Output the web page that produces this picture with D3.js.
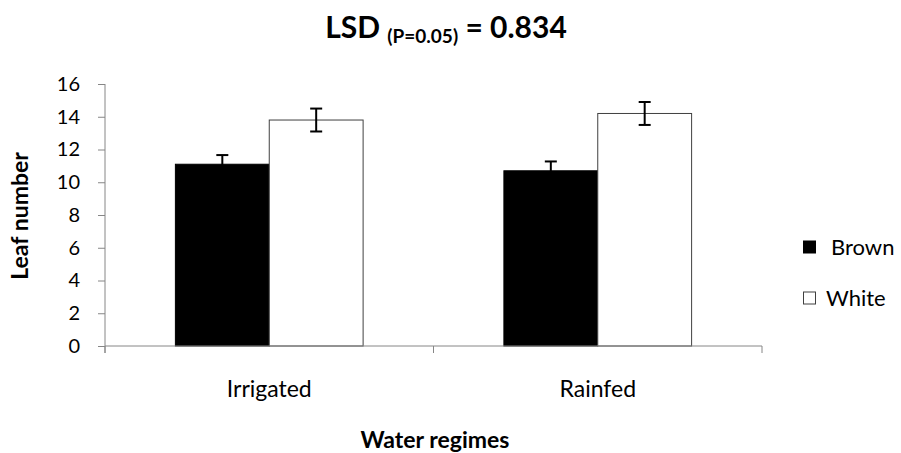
<!DOCTYPE html>
<html>
<head>
<meta charset="utf-8">
<script src="https://cdn.jsdelivr.net/npm/d3@7"></script>
<style>
  html, body { margin: 0; padding: 0; background: #fff; }
  svg { display: block; font-family: Lato, "Open Sans", sans-serif; }
</style>
</head>
<body>
<svg id="chart" width="901" height="453"></svg>
<script>
// Leaf number by water regime and seed colour
const categories = ["Irrigated", "Rainfed"];
const seriesNames = ["Brown", "White"];
const brownValues = [11.1, 10.7];
const whiteValues = [13.8, 14.2];
const brownErrors = [0.56, 0.57];
const whiteErrors = [0.7, 0.7];
const yTicks = [0, 2, 4, 6, 8, 10, 12, 14, 16];

const series = [
  { name: seriesNames[0], values: brownValues, errors: brownErrors, fill: "#000", stroke: "#000" },
  { name: seriesNames[1], values: whiteValues, errors: whiteErrors, fill: "#fff", stroke: "#404040" }
];

const svg = d3.select("#chart");
const plot = { left: 105, right: 762, top: 84, bottom: 346 };
const axisColor = "#868686";

const x0 = d3.scaleBand().domain(categories).range([plot.left, plot.right]).paddingInner(0).paddingOuter(0);
const gapWidth = 1.5; // gap between clusters, as a fraction of a bar
const barW = x0.bandwidth() / (series.length + gapWidth);
const x1 = d3.scaleBand().domain(seriesNames)
  .range([barW * gapWidth / 2, barW * gapWidth / 2 + barW * series.length]).padding(0);
const y = d3.scaleLinear().domain([0, 16]).range([plot.bottom, plot.top]);

// Bars
series.forEach(s => {
  svg.append("g").selectAll("rect").data(categories).join("rect")
    .attr("x", (c) => x0(c) + x1(s.name))
    .attr("y", (c, i) => y(s.values[i]))
    .attr("width", x1.bandwidth())
    .attr("height", (c, i) => y(0) - y(s.values[i]))
    .attr("fill", s.fill)
    .attr("stroke", s.stroke)
    .attr("stroke-width", 1);
});

// Error bars
series.forEach(s => {
  const g = svg.append("g").attr("stroke", "#000").attr("stroke-width", 2).attr("fill", "none");
  categories.forEach((c, i) => {
    const cx = x0(c) + x1(s.name) + x1.bandwidth() / 2;
    const hi = y(s.values[i] + s.errors[i]);
    const lo = y(s.values[i] - s.errors[i]);
    g.append("line").attr("x1", cx).attr("x2", cx).attr("y1", hi).attr("y2", lo);
    g.append("line").attr("x1", cx - 6).attr("x2", cx + 6).attr("y1", hi).attr("y2", hi);
    g.append("line").attr("x1", cx - 6).attr("x2", cx + 6).attr("y1", lo).attr("y2", lo);
  });
});

// Y axis
const yAxis = d3.axisLeft(y).tickValues(yTicks).tickSize(7).tickPadding(18).tickFormat(d3.format("d"));
const gy = svg.append("g").attr("transform", `translate(${plot.left},0)`).call(yAxis);
gy.select(".domain").remove();
gy.append("line").attr("x1", 0).attr("x2", 0).attr("y1", plot.top).attr("y2", plot.bottom + 7)
  .attr("stroke", axisColor);
gy.selectAll(".tick line").attr("stroke", axisColor);
gy.selectAll(".tick text").attr("fill", "#000").style("font-size", "20px")
  .style("font-family", "Lato, sans-serif");

// X axis: line plus ticks on cluster boundaries
const gx = svg.append("g");
gx.append("line").attr("x1", plot.left).attr("x2", plot.right).attr("y1", plot.bottom).attr("y2", plot.bottom)
  .attr("stroke", axisColor);
const boundaries = categories.map(c => x0(c)).concat([x0(categories[categories.length - 1]) + x0.bandwidth()]);
gx.selectAll("line.tk").data(boundaries).join("line").attr("class", "tk")
  .attr("x1", d => d).attr("x2", d => d).attr("y1", plot.bottom).attr("y2", plot.bottom + 7)
  .attr("stroke", axisColor);
gx.selectAll("text").data(categories).join("text")
  .attr("x", c => x0(c) + x0.bandwidth() / 2)
  .attr("y", 397)
  .attr("text-anchor", "middle")
  .style("font-size", "23px")
  .text(c => c);

// Axis titles
svg.append("text").attr("x", 435).attr("y", 448).attr("text-anchor", "middle")
  .style("font-size", "23px").style("font-weight", "bold").text("Water regimes");
svg.append("text").attr("transform", "translate(28,216) rotate(-90)").attr("text-anchor", "middle")
  .style("font-size", "23px").style("font-weight", "bold").text("Leaf number");

// Title with subscript
const title = svg.append("text").attr("x", 446).attr("y", 38).attr("text-anchor", "middle")
  .style("font-weight", "bold").style("font-size", "30px");
title.append("tspan").text("LSD ");
title.append("tspan").style("font-size", "19px").attr("dy", 5).text("(P=0.05)");
title.append("tspan").attr("dy", -5).text(" = 0.834");

// Legend
const legend = svg.append("g");
series.forEach((s, i) => {
  const ly = 247 + i * 51;
  legend.append("rect").attr("x", 803.5).attr("y", ly - 6).attr("width", 12).attr("height", 12)
    .attr("fill", s.fill).attr("stroke", s.stroke);
  legend.append("text").attr("x", i === 0 ? 831 : 826).attr("y", ly + 8)
    .style("font-size", "22px").text(s.name);
});
</script>
</body>
</html>
